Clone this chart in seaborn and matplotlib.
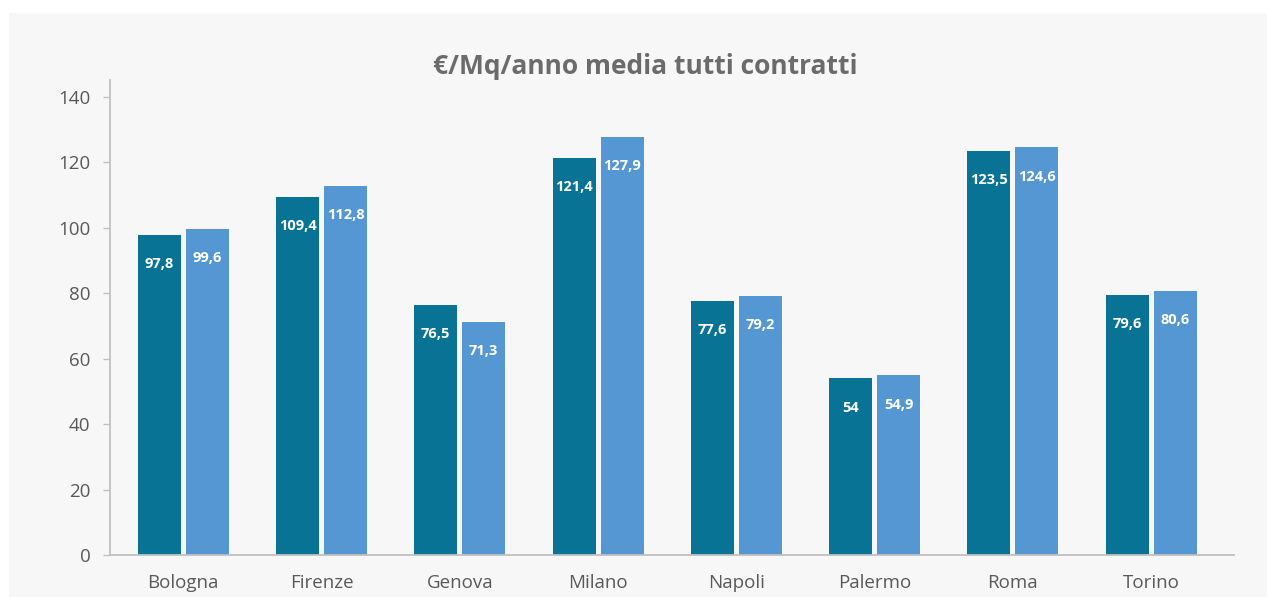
import pandas as pd
import matplotlib.pyplot as plt
import seaborn as sns
from matplotlib.patches import Rectangle

# Data
cities = ["Bologna", "Firenze", "Genova", "Milano", "Napoli", "Palermo", "Roma", "Torino"]
serie_a = [97.8, 109.4, 76.5, 121.4, 77.6, 54.0, 123.5, 79.6]
serie_b = [99.6, 112.8, 71.3, 127.9, 79.2, 54.9, 124.6, 80.6]
series_names = ["A", "B"]
y_ticks = [0, 20, 40, 60, 80, 100, 120, 140]

dark_blue = "#097395"
light_blue = "#5597d3"
text_grey = "#595959"
panel_grey = "#f7f7f7"

df = pd.DataFrame({
    "city": cities * 2,
    "value": serie_a + serie_b,
    "serie": [series_names[0]] * len(cities) + [series_names[1]] * len(cities),
})

sns.set_style("white")
plt.rcParams["font.family"] = ["Open Sans", "DejaVu Sans"]

fig = plt.figure(figsize=(12.67, 5.97), dpi=100)
fig.patch.set_facecolor("white")
# light grey panel behind the chart
fig.patches.append(Rectangle((9 / 1267, 0), 1, (597 - 13) / 597,
                             transform=fig.transFigure, facecolor=panel_grey,
                             edgecolor="none", zorder=-1))

ax = fig.add_axes([110 / 1267, 42 / 597, (1234 - 110) / 1267, (555 - 80) / 597])
ax.set_facecolor(panel_grey)

sns.barplot(data=df, x="city", y="value", hue="serie",
            palette=[dark_blue, light_blue], width=0.694, gap=0.104,
            saturation=1, linewidth=0, legend=False, ax=ax)

# value labels inside the top of each bar
for container in ax.containers:
    labels = [f"{v:g}".replace(".", ",") for v in container.datavalues]
    for bar, lab in zip(container, labels):
        ax.annotate(lab, (bar.get_x() + bar.get_width() / 2, bar.get_height()),
                    xytext=(0, -21), textcoords="offset points",
                    ha="center", va="center", color="white",
                    fontsize=10.5, fontweight="bold")

ax.set_xlim(-0.53, 7.6)
ax.set_ylim(0, 145.2)
ax.set_yticks(y_ticks)
ax.set_xlabel("")
ax.set_ylabel("")

for side in ["top", "right"]:
    ax.spines[side].set_visible(False)
for side in ["left", "bottom"]:
    ax.spines[side].set_color("#c0c0c0")
    ax.spines[side].set_linewidth(1.3)

ax.tick_params(axis="y", left=True, length=5, width=1, color="#c0c0c0",
               labelsize=13.5, labelcolor=text_grey, pad=9)
ax.tick_params(axis="x", bottom=False, labelsize=13.5, labelcolor=text_grey, pad=10)

fig.text(645 / 1267, 1 - 67 / 597, "€/Mq/anno media tutti contratti",
         ha="center", va="center", fontsize=19, fontweight="bold",
         color="#6b6b6b")

plt.savefig("out.png", dpi=100)
plt.close()
